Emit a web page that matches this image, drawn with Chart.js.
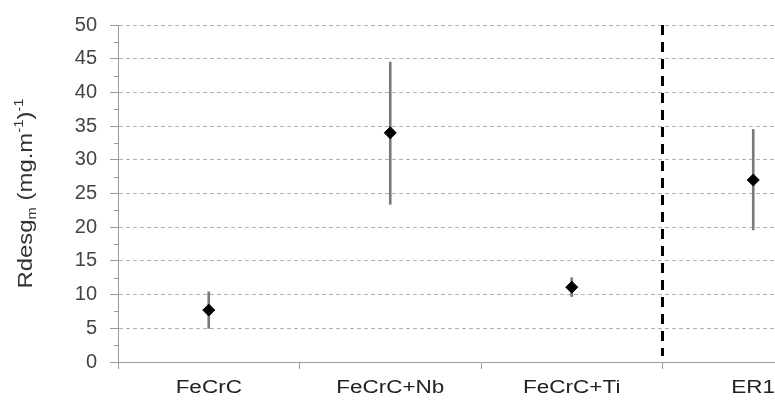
<!DOCTYPE html>
<html>
<head>
<meta charset="utf-8">
<script src="https://cdn.jsdelivr.net/npm/chart.js@4.4.1/dist/chart.umd.min.js"></script>
<style>
  html, body { margin: 0; padding: 0; background: #fff; overflow: hidden; }
  #wrap { width: 775px; height: 408px; overflow: hidden; }
</style>
</head>
<body>
<div id="wrap"><canvas id="rdesgChart" width="860" height="408"></canvas></div>
<script>
// amostras (ER1 fica cortado na borda direita, como no original)
const categorias = ['FeCrC', 'FeCrC+Nb', 'FeCrC+Ti', 'ER1'];
const media = [7.7, 34, 11.1, 27];
const minimo = [5.0, 23.4, 9.7, 19.6];
const maximo = [10.4, 44.5, 12.5, 34.5];
const yTicks = [0, 5, 10, 15, 20, 25, 30, 35, 40, 45, 50];

const FONTE = '"Liberation Sans", Arial, sans-serif';

const extras = {
    id: 'extras',
    afterDatasetsDraw(chart) {
        const { ctx, scales: { x, y } } = chart;
        ctx.save();
        // ticks menores do eixo y
        ctx.strokeStyle = '#999';
        ctx.lineWidth = 1;
        for (let v = 2.5; v < 50; v += 5) {
            const py = Math.round(y.getPixelForValue(v)) + 0.5;
            ctx.beginPath();
            ctx.moveTo(x.left - 4, py);
            ctx.lineTo(x.left, py);
            ctx.stroke();
        }
        // separador tracejado entre FeCrC+Ti e ER1
        const sx = (x.getPixelForValue(2) + x.getPixelForValue(3)) / 2;
        ctx.strokeStyle = '#000';
        ctx.lineWidth = 3;
        ctx.setLineDash([10, 7]);
        ctx.beginPath();
        ctx.moveTo(sx, y.getPixelForValue(50));
        ctx.lineTo(sx, y.getPixelForValue(0) - 6);
        ctx.stroke();
        ctx.restore();
    },
    afterDraw(chart) {
        const { ctx, scales: { x, y } } = chart;
        // rotulos do eixo x (um pouco esticados na horizontal como no original)
        ctx.save();
        ctx.fillStyle = '#222';
        ctx.font = '18px ' + FONTE;
        ctx.textAlign = 'center';
        ctx.textBaseline = 'alphabetic';
        categorias.forEach((c, i) => {
            ctx.save();
            ctx.translate(x.getPixelForValue(i), 393);
            ctx.scale(1.25, 1);
            ctx.fillText(c, 0, 0);
            ctx.restore();
        });
        ctx.restore();

        // titulo do eixo y com subscrito/sobrescrito
        ctx.save();
        ctx.translate(24, (y.top + y.bottom) / 2);
        ctx.rotate(-Math.PI / 2);
        ctx.fillStyle = '#333';
        ctx.textBaseline = 'alphabetic';
        const partes = [
            { t: 'Rdesg', f: 21, dy: 0 },
            { t: 'm', f: 13, dy: 4 },
            { t: ' (mg.m', f: 21, dy: 0 },
            { t: '-1', f: 13, dy: -9 },
            { t: ')', f: 21, dy: 0 },
            { t: '-1', f: 13, dy: -9 }
        ];
        let total = 0;
        partes.forEach(p => {
            ctx.font = p.f + 'px ' + FONTE;
            p.w = ctx.measureText(p.t).width;
            total += p.w;
        });
        const esc = 190 / total;
        ctx.scale(esc, 1);
        let px = -total / 2;
        partes.forEach(p => {
            ctx.font = p.f + 'px ' + FONTE;
            ctx.fillText(p.t, px, 8 + p.dy);
            px += p.w;
        });
        ctx.restore();
    }
};

const ctxR = document.getElementById('rdesgChart').getContext('2d');
const rdesgChart = new Chart(ctxR, {
    data: {
        labels: categorias,
        datasets: [{
            type: 'line',
            label: 'Média',
            data: media,
            showLine: false,
            pointStyle: 'rectRot',
            pointRadius: 6,
            pointBackgroundColor: '#000',
            pointBorderColor: '#000',
            order: 0
        }, {
            type: 'bar',
            label: 'Faixa',
            data: minimo.map((v, i) => [v, maximo[i]]),
            backgroundColor: '#7a7a7a',
            barThickness: 2,
            order: 1
        }]
    },
    plugins: [extras],
    options: {
        responsive: false,
        animation: false,
        layout: { padding: { left: 0, right: 16, top: 23, bottom: 0 } },
        plugins: {
            legend: { display: false },
            tooltip: { enabled: false }
        },
        scales: {
            x: {
                offset: true,
                afterFit(axis) { axis.height = 46; },
                grid: {
                    offset: true,
                    drawOnChartArea: false,
                    drawTicks: true,
                    tickLength: 7,
                    color: '#999'
                },
                border: { color: '#999', width: 1 },
                ticks: { display: false }
            },
            y: {
                min: 0,
                max: 50,
                afterFit(axis) { axis.width = 118; },
                afterBuildTicks(axis) {
                    axis.ticks = yTicks.map(v => ({ value: v }));
                },
                grid: {
                    color: '#b0b0b0',
                    tickLength: 8,
                    tickColor: '#999',
                    tickBorderDash: []
                },
                border: { color: '#999', width: 1, dash: [4, 3] },
                ticks: {
                    color: '#444',
                    padding: 13,
                    font: { family: FONTE, size: 20 }
                }
            }
        }
    }
});
</script>
</body>
</html>
